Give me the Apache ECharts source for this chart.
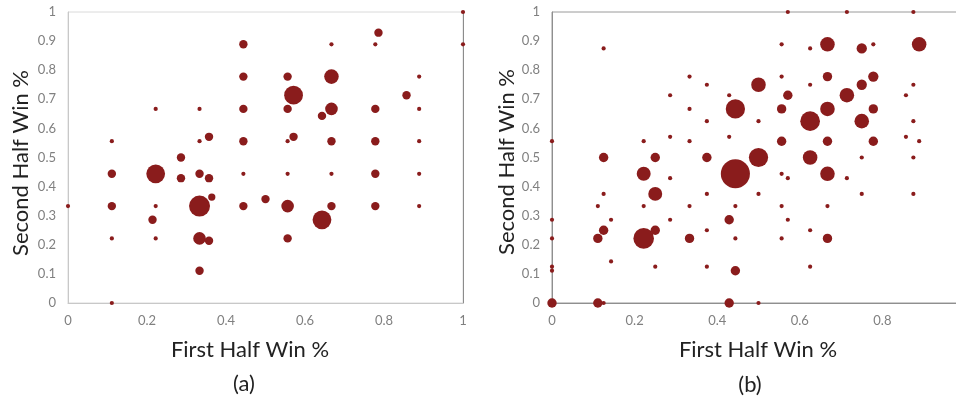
<!DOCTYPE html>
<html><head><meta charset="utf-8">
<script src="https://cdn.jsdelivr.net/npm/echarts@6/dist/echarts.min.js"></script>
<style>html,body{margin:0;padding:0;background:#fff;} #c{width:956px;height:404px;}</style>
</head><body><div id="c"></div>
<script>
// ---- Panel (a) ----
const aFirstHalf  = [0,0.111,0.111,0.111,0.111,0.111,0.222,0.222,0.222,0.214,0.222,0.286,0.286,0.333,0.333,0.357,0.333,0.357,0.333,0.364,0.333,0.357,0.333,
  0.444,0.444,0.444,0.444,0.444,0.444,0.5,0.556,0.571,0.556,0.571,0.556,0.556,0.556,0.556,
  0.667,0.667,0.667,0.643,0.667,0.667,0.667,0.643,0.786,0.778,0.778,0.778,0.778,0.778,0.857,0.889,0.889,0.889,0.889,0.889,1,1];
const aSecondHalf = [0.333,0.556,0.444,0.333,0.222,0,0.667,0.444,0.333,0.286,0.222,0.5,0.429,0.667,0.556,0.571,0.444,0.429,0.333,0.364,0.222,0.214,0.111,
  0.889,0.778,0.667,0.556,0.444,0.333,0.357,0.778,0.714,0.667,0.571,0.556,0.444,0.333,0.222,
  0.889,0.778,0.667,0.643,0.556,0.444,0.333,0.286,0.929,0.889,0.667,0.556,0.444,0.333,0.714,0.778,0.667,0.556,0.444,0.333,1,0.889];
const aCount      = [1,1,4,4,1,1,1,20,1,4,1,4,4,1,1,4,4,4,25,3,9,4,4,
  4,4,4,4,1,4,4,4,20,4,4,1,1,9,4,
  1,12,9,4,4,1,4,20,4,1,4,4,4,4,4,1,1,1,1,1,1,1];

// ---- Panel (b) ----
const bFirstHalf  = [0,0,0,0,0,0, 0.111,0.111,0.111, 0.125,0.125,0.125,0.125,0.125, 0.143,0.143,
  0.222,0.222,0.222,0.222, 0.25,0.25,0.25,0.25, 0.286,0.286,0.286,0.286,
  0.333,0.333,0.333,0.333,0.333, 0.375,0.375,0.375,0.375,0.375,0.375,
  0.429,0.429,0.429,0.429, 0.444,0.444,0.444,0.444,0.444, 0.5,0.5,0.5,0.5,0.5,
  0.556,0.556,0.556,0.556,0.556,0.556,0.556, 0.571,0.571,0.571,0.571,
  0.625,0.625,0.625,0.625,0.625,0.625, 0.667,0.667,0.667,0.667,0.667,0.667,0.667,
  0.714,0.714,0.714, 0.75,0.75,0.75,0.75,0.75, 0.778,0.778,0.778,0.778,
  0.857,0.857, 0.875,0.875,0.875,0.875,0.875, 0.889,0.889];
const bSecondHalf = [0.556,0.286,0.222,0.125,0.111,0, 0.333,0.222,0, 0.875,0.5,0.375,0.25,0, 0.286,0.143,
  0.556,0.444,0.333,0.222, 0.5,0.375,0.25,0.125, 0.714,0.571,0.429,0.286,
  0.778,0.667,0.556,0.333,0.222, 0.75,0.625,0.5,0.375,0.25,0.125,
  0.714,0.571,0.286,0, 0.667,0.444,0.333,0.222,0.111, 0.75,0.625,0.5,0.375,0,
  0.889,0.778,0.667,0.556,0.444,0.333,0.222, 1,0.714,0.429,0.286,
  0.875,0.75,0.625,0.5,0.25,0.125, 0.889,0.778,0.667,0.556,0.444,0.333,0.222,
  1,0.714,0.429, 0.875,0.75,0.625,0.5,0.375, 0.889,0.778,0.667,0.556,
  0.714,0.571, 1,0.75,0.625,0.5,0.375, 0.889,0.556];
const bCount      = [1,1,1,1,1,5, 1,5,5, 1,5,1,5,1, 1,1,
  1,11,1,24, 5,11,5,1, 1,1,1,1,
  1,1,1,1,5, 1,1,5,1,1,1,
  1,1,5,5, 21,48,1,1,5, 12,1,21,1,1,
  1,1,5,5,1,1,1, 1,5,1,1,
  1,1,22,12,1,1, 12,5,12,5,12,1,5,
  1,12,1, 6,6,12,1,1, 1,6,5,5,
  1,1, 1,1,1,1,1, 12,1];

const yTickLabels = ['0','0.1','0.2','0.3','0.4','0.5','0.6','0.7','0.8','0.9','1'];
const xTickLabels = ['0','0.2','0.4','0.6','0.8','1'];
const xTitle = 'First Half Win %';
const yTitle = 'Second Half Win %';
const panelLabels = ['(a)', '(b)'];

function zip(xs, ys, ns) { return xs.map((x, i) => [x, ys[i], ns[i]]); }

const FONT = 'Lato';
const DOT = '#8a1c1c';
const sizeFn = v => 4.2 * Math.sqrt(v[2]);

function xAxisCfg(grid, lineColor) {
  return { type: 'value', gridIndex: grid, min: 0, max: 1, interval: 0.2,
    axisLine: { show: true, onZero: false, lineStyle: { color: lineColor, width: 1 } },
    axisTick: { show: false }, splitLine: { show: false },
    axisLabel: { color: '#808080', fontFamily: FONT, fontSize: 13, margin: 11,
      formatter: v => xTickLabels[Math.round(v / 0.2)] } };
}
function yAxisCfg(grid, lineColor) {
  return { type: 'value', gridIndex: grid, min: 0, max: 1, interval: 0.1,
    axisLine: { show: true, onZero: false, lineStyle: { color: lineColor, width: 1 } },
    axisTick: { show: false }, splitLine: { show: false },
    axisLabel: { color: '#808080', fontFamily: FONT, fontSize: 13, margin: 12,
      formatter: v => yTickLabels[Math.round(v / 0.1)] } };
}

const chart = echarts.init(document.getElementById('c'), null, { renderer: 'canvas' });
const titleStyle = { fontFamily: FONT, fontSize: 22, fill: '#222', textAlign: 'center', textVerticalAlign: 'middle' };
chart.setOption({
  animation: false,
  backgroundColor: '#fff',
  grid: [
    { left: 68, top: 12, width: 395, height: 291, show: true, borderColor: '#dadada', borderWidth: 1, backgroundColor: 'transparent', containLabel: false, outerBoundsMode: 'none' },
    { left: 552, top: 12, width: 413, height: 291, show: true, borderColor: '#9a9a9a', borderWidth: 1, backgroundColor: 'transparent', containLabel: false, outerBoundsMode: 'none' }
  ],
  xAxis: [ xAxisCfg(0, '#c8c8c8'), xAxisCfg(1, '#8f8f8f') ],
  yAxis: [ yAxisCfg(0, '#c8c8c8'), yAxisCfg(1, '#8f8f8f'),
    { type: 'value', gridIndex: 0, position: 'right', min: 0, max: 1,
      axisLine: { show: true, onZero: false, lineStyle: { color: '#8c8c8c' } },
      axisTick: { show: false }, axisLabel: { show: false }, splitLine: { show: false } } ],
  series: [
    { type: 'scatter', xAxisIndex: 0, yAxisIndex: 0, data: zip(aFirstHalf, aSecondHalf, aCount),
      symbolSize: sizeFn, itemStyle: { color: DOT, opacity: 1 }, clip: false, z: 5 },
    { type: 'scatter', xAxisIndex: 1, yAxisIndex: 1, data: zip(bFirstHalf, bSecondHalf, bCount),
      symbolSize: sizeFn, itemStyle: { color: DOT, opacity: 1 }, clip: false, z: 5 }
  ],
  graphic: [
    { type: 'text', x: 250, y: 350, style: Object.assign({ text: xTitle }, titleStyle) },
    { type: 'text', x: 244, y: 384, style: Object.assign({ text: panelLabels[0] }, titleStyle) },
    { type: 'text', x: 21, y: 163, rotation: Math.PI / 2, style: Object.assign({ text: yTitle }, titleStyle) },
    { type: 'text', x: 758, y: 350, style: Object.assign({ text: xTitle }, titleStyle) },
    { type: 'text', x: 750, y: 385, style: Object.assign({ text: panelLabels[1] }, titleStyle) },
    { type: 'text', x: 507, y: 162, rotation: Math.PI / 2, style: Object.assign({ text: yTitle }, titleStyle) }
  ]
});
</script>
</body></html>
